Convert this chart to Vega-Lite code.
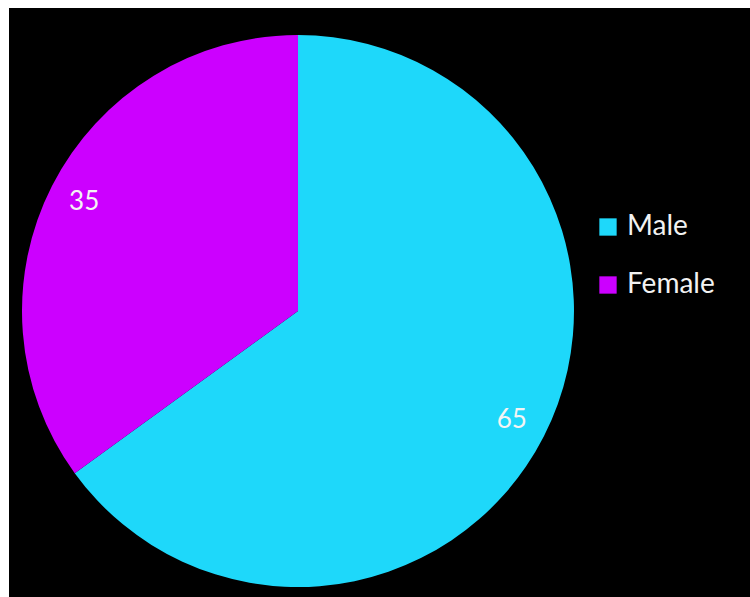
{
  "$schema": "https://vega.github.io/schema/vega-lite/v6.json",
  "width": 741,
  "height": 589,
  "autosize": "none",
  "padding": {"left": 9, "top": 8, "right": 0, "bottom": 0},
  "background": "white",
  "view": {"fill": "black", "stroke": null},
  "data": {"values": [
    {"gender": "Male", "value": 65},
    {"gender": "Female", "value": 35}
  ]},
  "encoding": {
    "theta": {"field": "value", "type": "quantitative", "stack": true},
    "order": {"field": "value", "type": "quantitative", "sort": "descending"}
  },
  "layer": [
    {
      "mark": {"type": "arc", "outerRadius": 276, "x": {"expr": "width*0.39"}, "y": {"expr": "height*0.5144"}},
      "encoding": {
        "color": {
          "field": "gender", "type": "nominal",
          "scale": {"domain": ["Male", "Female"], "range": ["#1ED8FA", "#CC00FF"]},
          "legend": {
            "title": null, "orient": "none", "legendX": 585, "legendY": 205,
            "symbolType": "square", "symbolSize": 300, "symbolStrokeWidth": 0,
            "labelColor": "#f2f2f2", "labelFontSize": 28, "labelFont": "Lato",
            "rowPadding": 30, "labelOffset": 5
          }
        }
      }
    },
    {
      "mark": {"type": "text", "radius": 240, "x": {"expr": "width*0.39"}, "y": {"expr": "height*0.5144"}, "fontSize": 26, "font": "Lato", "fill": "#f4f4f4"},
      "encoding": {
        "text": {"field": "value", "type": "quantitative"}
      }
    }
  ]
}
